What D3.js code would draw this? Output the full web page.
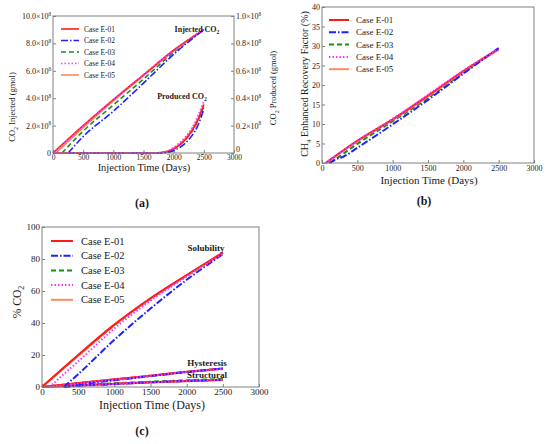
<!DOCTYPE html>
<html>
<head>
<meta charset="utf-8">
<script src="https://cdn.jsdelivr.net/npm/d3@7"></script>
<style>
  body { margin: 0; background: #fff; }
  svg text { font-family: "Liberation Serif", "DejaVu Serif", serif !important; fill: #1a1a1a; }
</style>
</head>
<body>
<svg id="fig" width="550" height="444" style="font-family: 'Liberation Serif', serif"></svg>
<script>
// ---- data ----
const cases = ["Case E-01", "Case E-02", "Case E-03", "Case E-04", "Case E-05"];
const colors = ["#ff1a1a", "#2020ff", "#1c8c1c", "#ff33ff", "#ff8a60"];
const dashes = [null, "7,2,1.5,2", "5,3", "1.5,2", null];
const drawOrder = [2, 4, 0, 1, 3];

const timeTicks = [0, 500, 1000, 1500, 2000, 2500, 3000];

// (a) cumulative CO2 injected, x10^8 gmol (left axis)
const injectedCO2 = [
  [[0, 0], [500, 2.0], [1000, 3.9], [1500, 5.7], [2000, 7.5], [2500, 9.0]],
  [[250, 0], [500, 1.2], [1000, 3.05], [1500, 5.1], [2000, 7.2], [2500, 9.0]],
  [[150, 0], [500, 1.6], [1000, 3.5], [1500, 5.4], [2000, 7.35], [2500, 9.0]],
  [[10, 0], [500, 1.95], [1000, 3.88], [1500, 5.72], [2000, 7.52], [2500, 9.05]],
  [[50, 0], [500, 1.85], [1000, 3.8], [1500, 5.65], [2000, 7.45], [2500, 9.0]]
];
// (a) cumulative CO2 produced, x10^8 gmol (right axis)
const producedCO2 = [
  [[0, 0], [1700, 0], [1900, 0.01], [2000, 0.03], [2100, 0.06], [2200, 0.1], [2300, 0.16], [2400, 0.24], [2500, 0.35]],
  [[250, 0], [1800, 0], [1950, 0.01], [2100, 0.04], [2200, 0.075], [2300, 0.125], [2400, 0.2], [2500, 0.32]],
  [[150, 0], [1720, 0], [1900, 0.01], [2000, 0.03], [2100, 0.06], [2200, 0.1], [2300, 0.155], [2400, 0.235], [2500, 0.34]],
  [[10, 0], [1680, 0], [1900, 0.015], [2000, 0.04], [2100, 0.075], [2200, 0.12], [2300, 0.18], [2400, 0.27], [2500, 0.38]],
  [[50, 0], [1700, 0], [1900, 0.012], [2000, 0.035], [2100, 0.065], [2200, 0.11], [2300, 0.17], [2400, 0.25], [2500, 0.36]]
];
const injTickLabels = ["0", "2.0", "4.0", "6.0", "8.0", "10.0"];
const prodTickLabels = ["0", "0.2", "0.4", "0.6", "0.8", "1.0"];

// (b) CH4 enhanced recovery factor, %
const recoveryCH4 = [
  [[50, 0], [500, 5.7], [1000, 11.2], [1500, 17.3], [2000, 23.6], [2500, 29.3]],
  [[100, 0], [200, 1.0], [300, 1.6], [500, 3.9], [1000, 9.9], [1500, 16.2], [2000, 22.9], [2500, 29.5]],
  [[120, 0], [500, 4.9], [1000, 10.7], [1500, 16.7], [2000, 23.2], [2500, 29.3]],
  [[50, 0], [500, 5.6], [1000, 11.3], [1500, 17.5], [2000, 23.7], [2500, 29.2]],
  [[60, 0], [500, 5.6], [1000, 11.1], [1500, 17.1], [2000, 23.4], [2500, 29.0]]
];

// (c) CO2 trapping, % of injected
const solubility = [
  [[0, 0], [500, 20], [1000, 39], [1500, 55.5], [2000, 70], [2500, 84]],
  [[300, 0], [500, 8], [1000, 29.5], [1500, 49], [2000, 67], [2500, 83]],
  [[0, 0], [500, 19.5], [1000, 38.5], [1500, 55], [2000, 69.5], [2500, 84]],
  [[100, 0], [500, 16], [1000, 36.5], [1500, 54], [2000, 69], [2500, 83.5]],
  [[0, 0], [500, 19.5], [1000, 38.7], [1500, 55.2], [2000, 69.7], [2500, 84]]
];
const hysteresis = [
  [[0, 0], [500, 2.5], [1000, 4.8], [1500, 7.1], [2000, 9.5], [2500, 11.5]],
  [[300, 0], [500, 1.5], [1000, 4.2], [1500, 6.8], [2000, 9.3], [2500, 11.6]],
  [[0, 0], [500, 2.4], [1000, 4.7], [1500, 7.0], [2000, 9.4], [2500, 11.4]],
  [[100, 0], [500, 2.2], [1000, 4.6], [1500, 7.0], [2000, 9.4], [2500, 11.3]],
  [[0, 0], [500, 2.4], [1000, 4.7], [1500, 7.0], [2000, 9.4], [2500, 11.4]]
];
const structural = [
  [[0, 0], [500, 1.0], [1000, 2.0], [1500, 3.0], [2000, 3.8], [2500, 4.5]],
  [[300, 0], [500, 0.7], [1000, 1.8], [1500, 2.9], [2000, 3.8], [2500, 4.6]],
  [[0, 0], [500, 1.2], [1000, 2.3], [1500, 3.3], [2000, 4.2], [2500, 5.0]],
  [[100, 0], [500, 0.9], [1000, 1.9], [1500, 2.9], [2000, 3.8], [2500, 4.5]],
  [[0, 0], [500, 0.9], [1000, 1.9], [1500, 2.8], [2000, 3.6], [2500, 4.3]]
];

const svg = d3.select("#fig");
const frameColor = "#808080";
const serif = "'Liberation Serif', serif";

// text with a subscript or superscript piece: parts = [[str, "n"|"sub"|"sup"|"back-sub"], ...]
function richText(sel, parts, size) {
  parts.forEach(function (p) {
    const t = sel.append("tspan").text(p[0]);
    if (p[1] === "sub") t.attr("dy", size * 0.3).attr("font-size", size * 0.7);
    else if (p[1] === "sup") t.attr("dy", -size * 0.4).attr("font-size", size * 0.65);
    else if (p[1] === "back-sub") t.attr("dy", -size * 0.3);
  });
}

function styleAxis(g, size) {
  g.attr("font-family", serif);
  g.select(".domain").remove();
  g.selectAll(".tick line").attr("stroke", frameColor);
  g.selectAll(".tick text").attr("font-size", size).attr("fill", "#1a1a1a")
    .style("font-family", serif);
}

function panel(cfg) {
  const g = svg.append("g");
  const x = d3.scaleLinear().domain([0, 3000]).range([cfg.x0, cfg.x1]);
  const y = d3.scaleLinear().domain(cfg.yDomain).range([cfg.y1, cfg.y0]);

  const gx = g.append("g").attr("transform", `translate(0,${cfg.y1})`)
    .call(d3.axisBottom(x).tickValues(timeTicks).tickFormat(d3.format("d"))
      .tickSizeInner(-3).tickSizeOuter(0).tickPadding(2));
  styleAxis(gx, cfg.tickSize);

  const gy = g.append("g").attr("transform", `translate(${cfg.x0},0)`)
    .call(d3.axisLeft(y).tickValues(cfg.yTicks).tickFormat(d3.format("d"))
      .tickSizeInner(-3).tickSizeOuter(0).tickPadding(2));
  styleAxis(gy, cfg.yTickSize || cfg.tickSize);

  return { g: g, x: x, y: y, gy: gy };
}

function drawSeries(p, yScale, data, width) {
  const line = d3.line().x(d => p.x(d[0])).y(d => yScale(d[1])).curve(d3.curveMonotoneX);
  drawOrder.forEach(function (i) {
    p.g.append("path").attr("d", line(data[i]))
      .attr("fill", "none").attr("stroke", colors[i]).attr("stroke-width", width)
      .attr("stroke-dasharray", dashes[i]);
  });
}

function frame(p, cfg) {
  p.g.append("rect").attr("x", cfg.x0).attr("y", cfg.y0)
    .attr("width", cfg.x1 - cfg.x0).attr("height", cfg.y1 - cfg.y0)
    .attr("fill", "none").attr("stroke", frameColor).attr("stroke-width", 1);
}

function legend(p, lx0, lx1, tx, ys, size, width) {
  cases.forEach(function (c, i) {
    p.g.append("line").attr("x1", lx0).attr("x2", lx1).attr("y1", ys[i]).attr("y2", ys[i])
      .attr("stroke", colors[i]).attr("stroke-width", width).attr("stroke-dasharray", dashes[i]);
    p.g.append("text").attr("x", tx).attr("y", ys[i]).attr("dy", "0.35em")
      .attr("font-size", size).style("font-family", serif).text(c);
  });
}

function label(g, x, y, size, parts, opts) {
  opts = opts || {};
  const t = g.append("text").attr("font-size", size).style("font-family", serif)
    .attr("text-anchor", opts.anchor || "middle")
    .attr("font-weight", opts.bold ? "bold" : null);
  if (opts.rotate) t.attr("transform", `translate(${x},${y}) rotate(-90)`);
  else t.attr("x", x).attr("y", y);
  richText(t, parts, size);
  return t;
}

// ---------- (a) ----------
const cfgA = { x0: 53, x1: 234, y0: 16, y1: 153, yDomain: [0, 10], yTicks: [0, 2, 4, 6, 8, 10], tickSize: 7.5, yTickSize: 8 };
const pA = panel(cfgA);
pA.gy.selectAll(".tick text").each(function (d, i) {
  const t = d3.select(this).text(null);
  if (i === 0) { t.text("0"); return; }
  richText(t, [[injTickLabels[i] + "\u00d710", "n"], ["8", "sup"]], 8);
});
const yR = d3.scaleLinear().domain([0, 1]).range([cfgA.y1, cfgA.y0]);
const gyR = pA.g.append("g").attr("transform", `translate(${cfgA.x1},0)`)
  .call(d3.axisRight(yR).tickValues([0, 0.2, 0.4, 0.6, 0.8, 1]).tickSizeInner(-3).tickSizeOuter(0).tickPadding(2));
styleAxis(gyR, 8);
gyR.selectAll(".tick text").each(function (d, i) {
  const t = d3.select(this).text(null);
  if (i === 0) { t.text("0").attr("dy", "-0.15em"); return; }
  richText(t, [[prodTickLabels[i] + "\u00d710", "n"], ["8", "sup"]], 8);
});
drawSeries(pA, pA.y, injectedCO2, 1.6);
drawSeries(pA, yR, producedCO2, 1.6);
frame(pA, cfgA);
legend(pA, 61, 79, 84, [29, 40.5, 52, 63.5, 75], 7.5, 1.6);
label(pA.g, 197, 32, 8, [["Injected CO", "n"], ["2", "sub"]], { bold: true });
label(pA.g, 182, 99, 8, [["Produced CO", "n"], ["2", "sub"]], { bold: true });
label(pA.g, 144, 171, 10.5, [["Injection Time (Days)", "n"]]);
label(pA.g, 15, 107, 8.5, [["CO", "n"], ["2", "sub"], [" Injected (gmol)", "back-sub"]], { rotate: true });
label(pA.g, 276, 88, 8.5, [["CO", "n"], ["2", "sub"], [" Produced (gmol)", "back-sub"]], { rotate: true });
label(pA.g, 142, 207, 12, [["(a)", "n"]], { bold: true });

// ---------- (b) ----------
const cfgB = { x0: 322, x1: 534, y0: 7, y1: 163, yDomain: [0, 40], yTicks: d3.range(0, 41, 5), tickSize: 8 };
const pB = panel(cfgB);
drawSeries(pB, pB.y, recoveryCH4, 2);
frame(pB, cfgB);
legend(pB, 329, 349, 356, [20, 32.3, 44.6, 56.9, 69.2], 9, 2);
label(pB.g, 429, 184, 11, [["Injection Time (Days)", "n"]]);
label(pB.g, 308, 84, 10, [["CH", "n"], ["4", "sub"], ["  Enhanced Recovery Factor (%)", "back-sub"]], { rotate: true });
label(pB.g, 424, 205, 12, [["(b)", "n"]], { bold: true });

// ---------- (c) ----------
const cfgC = { x0: 42, x1: 259, y0: 227, y1: 387, yDomain: [0, 100], yTicks: [0, 20, 40, 60, 80, 100], tickSize: 9 };
const pC = panel(cfgC);
drawSeries(pC, pC.y, structural, 2);
drawSeries(pC, pC.y, hysteresis, 2);
drawSeries(pC, pC.y, solubility, 2);
frame(pC, cfgC);
legend(pC, 51, 73, 81, [241, 255.7, 270.4, 285.1, 299.8], 10.5, 2);
label(pC.g, 206, 251, 9, [["Solubility", "n"]], { bold: true });
label(pC.g, 207, 366, 9, [["Hysteresis", "n"]], { bold: true });
label(pC.g, 207, 378, 9, [["Structural", "n"]], { bold: true });
label(pC.g, 152, 409, 12, [["Injection Time (Days)", "n"]]);
label(pC.g, 21, 302, 11.5, [["% CO", "n"], ["2", "sub"]], { rotate: true });
label(pC.g, 142, 435, 12, [["(c)", "n"]], { bold: true });
</script>
</body>
</html>
